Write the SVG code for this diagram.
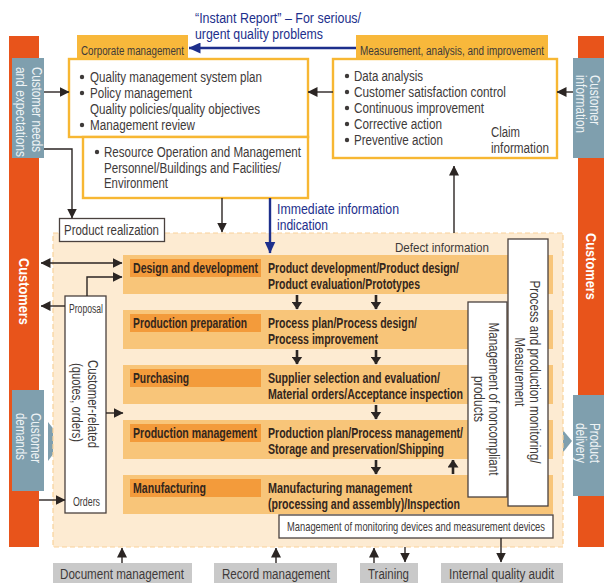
<svg xmlns="http://www.w3.org/2000/svg" width="604" height="583" viewBox="0 0 604 583">
<style>
.t{font-family:"Liberation Sans Narrow","Liberation Sans",Arial,sans-serif;fill:#3e3a39;font-size:14px}
.s{font-size:12.5px}
.b{font-weight:bold;fill:#33261d}
.w{fill:#ffffff}
.lw{fill:#eef3f5}
.bl{fill:#1d2f8c}
.ln{stroke:#2b2523;stroke-width:1.4;fill:none}
.rl{stroke:#2b2523;stroke-width:2.6;fill:none}
.bln{stroke:#1d2f8c;stroke-width:2.4;fill:none}
.ybox{fill:#ffffff;stroke:#f7b733;stroke-width:2.4}
.tab{fill:#f8b83b}
.wbox{fill:#ffffff;stroke:#4a413e;stroke-width:1.3}
.gb{fill:#7f9fae}
.or{fill:#e8541b}
.row{fill:#f8c579}
.lab{fill:#f39b3b}
.gray{fill:#c9c9c9}
</style>
<defs>
<marker id="ah" viewBox="0 0 10 10" markerWidth="10" markerHeight="10" markerUnits="userSpaceOnUse" refX="9.5" refY="5" orient="auto-start-reverse"><path d="M0,0 L10,5 L0,10 z" fill="#2b2523"/></marker>
<marker id="ahb" viewBox="0 0 12 11" markerWidth="12" markerHeight="11" markerUnits="userSpaceOnUse" refX="11.5" refY="5.5" orient="auto"><path d="M0,0 L12,5.5 L0,11 z" fill="#1d2f8c"/></marker>
<marker id="ahr" viewBox="0 0 8 11" markerWidth="8" markerHeight="11" markerUnits="userSpaceOnUse" refX="7.5" refY="5.5" orient="auto"><path d="M0,0 L8,5.5 L0,11 z" fill="#2b2523"/></marker>
</defs>

<!-- customers bars -->
<g id="customers-left">
<rect class="or" x="9" y="36" width="30" height="511"/>
<text class="t b w" transform="translate(18.5,258) rotate(90)" textLength="67" lengthAdjust="spacingAndGlyphs" style="fill:#fff">Customers</text>
</g>
<g id="customers-right">
<rect class="or" x="578" y="36" width="26" height="511"/>
<text class="t b w" transform="translate(586,233) rotate(90)" textLength="67" lengthAdjust="spacingAndGlyphs" style="fill:#fff">Customers</text>
</g>

<g id="customer-needs">
<rect class="gb" x="12" y="58" width="32" height="100"/>
<text class="t lw" transform="translate(32,67) rotate(90)" textLength="85" lengthAdjust="spacingAndGlyphs">Customer needs</text>
<text class="t lw" transform="translate(16,67) rotate(90)" textLength="90" lengthAdjust="spacingAndGlyphs">and expectations</text>
</g>
<g id="customer-information">
<rect class="gb" x="573" y="58" width="31" height="100"/>
<text class="t lw" transform="translate(590,75) rotate(90)" textLength="50" lengthAdjust="spacingAndGlyphs">Customer</text>
<text class="t lw" transform="translate(575.5,75) rotate(90)" textLength="58" lengthAdjust="spacingAndGlyphs">information</text>
</g>
<g id="customer-demands">
<rect class="gb" x="12" y="390" width="32" height="101"/>
<path class="gb" d="M48,422 L63,441 L48,461 z"/>
<text class="t lw" transform="translate(30.5,413) rotate(90)" textLength="50" lengthAdjust="spacingAndGlyphs">Customer</text>
<text class="t lw" transform="translate(15.5,413) rotate(90)" textLength="47" lengthAdjust="spacingAndGlyphs">demands</text>
</g>
<g id="product-delivery">
<rect class="gb" x="573" y="395" width="31" height="101"/>
<path class="gb" d="M557,423 L572,441 L557,460 z"/>
<text class="t lw" transform="translate(590,423) rotate(90)" textLength="40" lengthAdjust="spacingAndGlyphs">Product</text>
<text class="t lw" transform="translate(576,423) rotate(90)" textLength="40" lengthAdjust="spacingAndGlyphs">delivery</text>
</g>

<!-- corporate management -->
<g id="corporate-management">
<rect class="tab" x="77" y="35" width="111" height="24"/>
<text class="t s" x="81" y="54.5" textLength="103" lengthAdjust="spacingAndGlyphs">Corporate management</text>
<rect class="ybox" x="69" y="59" width="239" height="78"/>
<circle cx="82" cy="77" r="2.2" fill="#3e3a39"/>
<circle cx="82" cy="93" r="2.2" fill="#3e3a39"/>
<circle cx="82" cy="125" r="2.2" fill="#3e3a39"/>
<text class="t" x="90" y="81.5" textLength="172" lengthAdjust="spacingAndGlyphs">Quality management system plan</text>
<text class="t" x="90" y="97.5" textLength="102" lengthAdjust="spacingAndGlyphs">Policy management</text>
<text class="t" x="90" y="113.5" textLength="170" lengthAdjust="spacingAndGlyphs">Quality policies/quality objectives</text>
<text class="t" x="90" y="129.5" textLength="105" lengthAdjust="spacingAndGlyphs">Management review</text>
</g>
<g id="resource-management">
<rect class="ybox" x="83" y="137" width="225" height="61"/>
<circle cx="97" cy="152" r="2.2" fill="#3e3a39"/>
<text class="t" x="104" y="157" textLength="197" lengthAdjust="spacingAndGlyphs">Resource Operation and Management</text>
<text class="t" x="104" y="172.5" textLength="177" lengthAdjust="spacingAndGlyphs">Personnel/Buildings and Facilities/</text>
<text class="t" x="104" y="188" textLength="64" lengthAdjust="spacingAndGlyphs">Environment</text>
</g>

<g id="measurement">
<rect class="tab" x="356" y="35" width="192" height="24"/>
<text class="t s" x="360" y="54.5" textLength="184" lengthAdjust="spacingAndGlyphs">Measurement, analysis, and improvement</text>
<rect class="ybox" x="333" y="59" width="224" height="99"/>
<circle cx="347" cy="76" r="2.2" fill="#3e3a39"/>
<circle cx="347" cy="92" r="2.2" fill="#3e3a39"/>
<circle cx="347" cy="108" r="2.2" fill="#3e3a39"/>
<circle cx="347" cy="124" r="2.2" fill="#3e3a39"/>
<circle cx="347" cy="140" r="2.2" fill="#3e3a39"/>
<text class="t" x="354" y="81" textLength="69" lengthAdjust="spacingAndGlyphs">Data analysis</text>
<text class="t" x="354" y="97" textLength="152" lengthAdjust="spacingAndGlyphs">Customer satisfaction control</text>
<text class="t" x="354" y="113" textLength="130" lengthAdjust="spacingAndGlyphs">Continuous improvement</text>
<text class="t" x="354" y="129" textLength="88" lengthAdjust="spacingAndGlyphs">Corrective action</text>
<text class="t" x="354" y="144.5" textLength="89" lengthAdjust="spacingAndGlyphs">Preventive action</text>
<text class="t" x="491" y="137" textLength="29" lengthAdjust="spacingAndGlyphs">Claim</text>
<text class="t" x="491" y="153" textLength="58" lengthAdjust="spacingAndGlyphs">information</text>
</g>

<!-- product realization area -->
<g id="realization-area">
<rect x="53" y="233" width="510" height="314" fill="#fdebd2" stroke="#f9d29a" stroke-width="1.2" stroke-dasharray="5,3"/>
<text class="t" x="395" y="251.5" style="font-size:13px" textLength="94" lengthAdjust="spacingAndGlyphs">Defect information</text>
</g>
<g id="product-realization">
<rect class="wbox" x="59.5" y="218.5" width="105" height="23"/>
<text class="t" x="64" y="235" textLength="95" lengthAdjust="spacingAndGlyphs">Product realization</text>
</g>

<g id="design">
<rect class="row" x="123" y="255" width="430" height="39"/>
<rect class="lab" x="130" y="259" width="131" height="18"/>
<g transform="translate(133,273) scale(0.72,1)"><text class="t b" x="0" y="0" textLength="173.6" lengthAdjust="spacingAndGlyphs">Design and development</text></g>
<text class="t b" x="268" y="273" textLength="191" lengthAdjust="spacingAndGlyphs">Product development/Product design/</text>
<text class="t b" x="268" y="289" textLength="152" lengthAdjust="spacingAndGlyphs">Product evaluation/Prototypes</text>
</g>
<g id="preparation">
<rect class="row" x="123" y="310" width="430" height="39"/>
<rect class="lab" x="130" y="314" width="131" height="18"/>
<g transform="translate(133,328) scale(0.72,1)"><text class="t b" x="0" y="0" textLength="158.3" lengthAdjust="spacingAndGlyphs">Production preparation</text></g>
<text class="t b" x="268" y="328" textLength="149" lengthAdjust="spacingAndGlyphs">Process plan/Process design/</text>
<text class="t b" x="268" y="344" textLength="110" lengthAdjust="spacingAndGlyphs">Process improvement</text>
</g>
<g id="purchasing">
<rect class="row" x="123" y="365" width="430" height="39"/>
<rect class="lab" x="130" y="369" width="131" height="18"/>
<g transform="translate(133,383) scale(0.72,1)"><text class="t b" x="0" y="0" textLength="77.8" lengthAdjust="spacingAndGlyphs">Purchasing</text></g>
<text class="t b" x="268" y="383" textLength="172" lengthAdjust="spacingAndGlyphs">Supplier selection and evaluation/</text>
<text class="t b" x="268" y="399" textLength="195" lengthAdjust="spacingAndGlyphs">Material orders/Acceptance inspection</text>
</g>
<g id="production-management">
<rect class="row" x="123" y="420" width="430" height="39"/>
<rect class="lab" x="130" y="424" width="131" height="18"/>
<g transform="translate(133,438) scale(0.72,1)"><text class="t b" x="0" y="0" textLength="172.2" lengthAdjust="spacingAndGlyphs">Production management</text></g>
<text class="t b" x="268" y="438" textLength="195" lengthAdjust="spacingAndGlyphs">Production plan/Process management/</text>
<text class="t b" x="268" y="454" textLength="176" lengthAdjust="spacingAndGlyphs">Storage and preservation/Shipping</text>
</g>
<g id="manufacturing">
<rect class="row" x="123" y="475" width="430" height="39"/>
<rect class="lab" x="130" y="479" width="131" height="18"/>
<g transform="translate(133,493) scale(0.72,1)"><text class="t b" x="0" y="0" textLength="101.4" lengthAdjust="spacingAndGlyphs">Manufacturing</text></g>
<text class="t b" x="268" y="493" textLength="144" lengthAdjust="spacingAndGlyphs">Manufacturing management</text>
<text class="t b" x="268" y="509" textLength="192" lengthAdjust="spacingAndGlyphs">(processing and assembly)/Inspection</text>
</g>

<g id="noncompliant">
<rect class="wbox" x="468" y="302" width="39" height="195"/>
<text class="t" transform="translate(489,399) rotate(90)" text-anchor="middle" textLength="153" lengthAdjust="spacingAndGlyphs">Management of noncompliant</text>
<text class="t" transform="translate(474,399) rotate(90)" text-anchor="middle" textLength="46" lengthAdjust="spacingAndGlyphs">products</text>
</g>
<g id="process-monitoring">
<rect class="wbox" x="508" y="239" width="40" height="267"/>
<text class="t" transform="translate(530,372) rotate(90)" text-anchor="middle" textLength="183" lengthAdjust="spacingAndGlyphs">Process and production monitoring/</text>
<text class="t" transform="translate(514.5,372) rotate(90)" text-anchor="middle" textLength="69" lengthAdjust="spacingAndGlyphs">Measurement</text>
</g>
<g id="monitoring-devices">
<rect class="wbox" x="279" y="515" width="274" height="23"/>
<g transform="translate(287,531) scale(0.8,1)"><text class="t" x="0" y="0" style="font-size:12px" textLength="322.5" lengthAdjust="spacingAndGlyphs">Management of monitoring devices and measurement devices</text></g>
</g>

<g id="customer-related">
<rect class="wbox" x="65" y="296" width="41" height="217"/>
<text class="t s" x="69" y="313" textLength="34" lengthAdjust="spacingAndGlyphs">Proposal</text>
<text class="t" transform="translate(88,360) rotate(90)" textLength="88" lengthAdjust="spacingAndGlyphs">Customer-related</text>
<text class="t" transform="translate(72,363) rotate(90)" textLength="79" lengthAdjust="spacingAndGlyphs">(quotes, orders)</text>
<text class="t s" x="73" y="505.5" textLength="27" lengthAdjust="spacingAndGlyphs">Orders</text>
</g>

<g id="document-management"><rect class="gray" x="53" y="563" width="139" height="20"/><text class="t" x="60" y="579" textLength="124" lengthAdjust="spacingAndGlyphs">Document management</text></g>
<g id="record-management"><rect class="gray" x="214" y="563" width="123" height="20"/><text class="t" x="222" y="579" textLength="108" lengthAdjust="spacingAndGlyphs">Record management</text></g>
<g id="training"><rect class="gray" x="360" y="563" width="58" height="20"/><text class="t" x="368" y="579" textLength="41" lengthAdjust="spacingAndGlyphs">Training</text></g>
<g id="internal-audit"><rect class="gray" x="441" y="563" width="122" height="20"/><text class="t" x="449" y="579" textLength="105" lengthAdjust="spacingAndGlyphs">Internal quality audit</text></g>

<g id="blue-labels">
<text class="t bl" x="195" y="23" textLength="166" lengthAdjust="spacingAndGlyphs">“Instant Report” – For serious/</text>
<text class="t bl" x="195" y="38.5" textLength="128" lengthAdjust="spacingAndGlyphs">urgent quality problems</text>
<text class="t bl" x="277" y="214" textLength="122" lengthAdjust="spacingAndGlyphs">Immediate information</text>
<text class="t bl" x="277" y="229.5" textLength="51" lengthAdjust="spacingAndGlyphs">indication</text>
</g>

<g id="connectors">
<path class="bln" d="M356,48 H189" marker-end="url(#ahb)"/>
<path class="bln" d="M270,198 V253" marker-end="url(#ahb)"/>
<path class="ln" d="M44,92 H69" marker-end="url(#ah)"/>
<path class="ln" d="M333,92 H308" marker-end="url(#ah)"/>
<path class="ln" d="M573,92 H557" marker-end="url(#ah)"/>
<path class="ln" d="M44,149 H72 V218" marker-end="url(#ah)"/>
<path class="ln" d="M222,198 V232" marker-end="url(#ah)"/>
<path class="ln" d="M454,233 V166" marker-end="url(#ah)"/>
<path class="ln" d="M41,263 H122" marker-start="url(#ah)" marker-end="url(#ah)"/>
<path class="ln" d="M87,296 V277 H122" marker-end="url(#ah)"/>
<path class="ln" d="M65,306 H41" marker-end="url(#ah)"/>
<path class="ln" d="M106,413 H123" marker-end="url(#ah)"/>
<path class="ln" d="M39,500 H65" marker-end="url(#ah)"/>
<path class="rl" d="M297,295 V309" marker-end="url(#ahr)"/>
<path class="rl" d="M376,295 V309" marker-end="url(#ahr)"/>
<path class="rl" d="M297,350 V364" marker-end="url(#ahr)"/>
<path class="rl" d="M376,350 V364" marker-end="url(#ahr)"/>
<path class="rl" d="M376,405 V419" marker-end="url(#ahr)"/>
<path class="rl" d="M376,460 V474" marker-end="url(#ahr)"/>
<path class="rl" d="M453,474 V460" marker-end="url(#ahr)"/>
<path class="ln" d="M122,563 V548" marker-end="url(#ah)"/>
<path class="ln" d="M276,563 V548" marker-end="url(#ah)"/>
<path class="ln" d="M374,563 V548" marker-end="url(#ah)"/>
<path class="ln" d="M405,547 V562" marker-end="url(#ah)"/>
<path class="ln" d="M501,538 V562" marker-end="url(#ah)"/>
</g>
</svg>
